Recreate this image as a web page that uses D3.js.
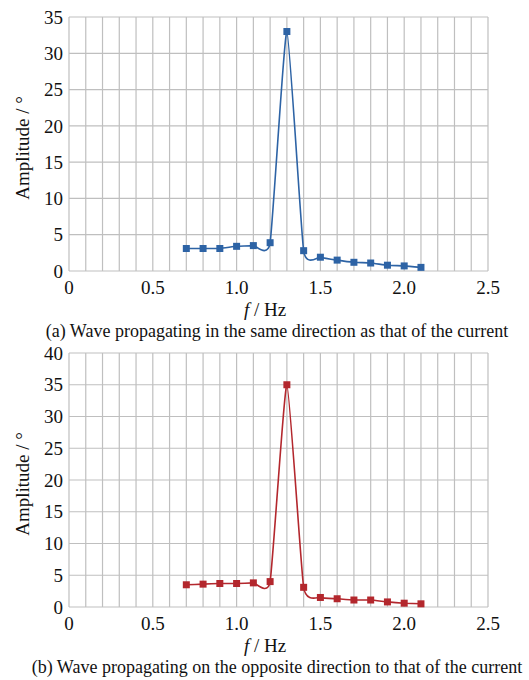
<!DOCTYPE html>
<html>
<head>
<meta charset="utf-8">
<script src="https://cdn.jsdelivr.net/npm/d3@7"></script>
<style>
  body { margin: 0; background: #fff; }
  text { font-family: "Liberation Serif", "DejaVu Serif", serif; fill: #111; }
</style>
</head>
<body>
<div id="chart"></div>
<script>
// frequencies, Hz
var freq = [0.7, 0.8, 0.9, 1.0, 1.1, 1.2, 1.3, 1.4, 1.5, 1.6, 1.7, 1.8, 1.9, 2.0, 2.1];
// amplitude (deg), wave with the current
var ampSame = [3.1, 3.1, 3.1, 3.4, 3.5, 3.9, 33.0, 2.8, 1.9, 1.5, 1.2, 1.1, 0.8, 0.7, 0.5];
// amplitude (deg), wave against the current
var ampOpposite = [3.5, 3.6, 3.7, 3.7, 3.8, 4.0, 35.0, 3.1, 1.5, 1.3, 1.1, 1.1, 0.8, 0.6, 0.5];

var xTicks = [0, 0.5, 1.0, 1.5, 2.0, 2.5];
var xTickLabels = ["0", "0.5", "1.0", "1.5", "2.0", "2.5"];
var yTicksA = [0, 5, 10, 15, 20, 25, 30, 35];
var yTicksB = [0, 5, 10, 15, 20, 25, 30, 35, 40];

var captionA = "(a) Wave propagating in the same direction as that of the current";
var captionB = "(b) Wave propagating on the opposite direction to that of the current";

var W = 529, H = 680;
var svg = d3.select("#chart").append("svg")
    .attr("width", W)
    .attr("height", H);

function drawPanel(top, bottom, yMax, yTicks, values, color, caption) {
    var x = d3.scaleLinear().domain([0, 2.5]).range([69, 488]);
    var y = d3.scaleLinear().domain([0, yMax]).range([bottom, top]);
    var g = svg.append("g");

    // grid every 0.1 Hz
    var xGrid = d3.range(0, 26).map(function (i) { return i / 10; });
    g.selectAll("line.vg").data(xGrid).enter().append("line")
        .attr("x1", function (d) { return x(d); })
        .attr("x2", function (d) { return x(d); })
        .attr("y1", y(yMax)).attr("y2", y(0))
        .attr("stroke", "#bfbfbf").attr("stroke-width", 1.2);
    g.selectAll("line.hg").data(yTicks).enter().append("line")
        .attr("x1", x(0)).attr("x2", x(2.5))
        .attr("y1", function (d) { return y(d); })
        .attr("y2", function (d) { return y(d); })
        .attr("stroke", "#bfbfbf").attr("stroke-width", 1.2);

    // tick labels
    g.selectAll("text.yt").data(yTicks).enter().append("text")
        .attr("x", 63)
        .attr("y", function (d) { return y(d); })
        .attr("dy", "0.35em")
        .attr("text-anchor", "end")
        .style("font-size", "19px")
        .text(function (d) { return d; });
    g.selectAll("text.xt").data(xTicks).enter().append("text")
        .attr("x", function (d) { return x(d); })
        .attr("y", bottom + 16)
        .attr("dy", "0.35em")
        .attr("text-anchor", "middle")
        .style("font-size", "19px")
        .text(function (d, i) { return xTickLabels[i]; });

    // axis titles
    var xt = g.append("text")
        .attr("x", 265).attr("y", bottom + 38)
        .attr("dy", "0.35em")
        .attr("text-anchor", "middle")
        .style("font-size", "19px");
    xt.append("tspan").style("font-style", "italic").text("f");
    xt.append("tspan").text(" / Hz");

    g.append("text")
        .attr("transform", "translate(22," + ((top + bottom) / 2 + 4) + ") rotate(-90)")
        .attr("dy", "0.35em")
        .attr("text-anchor", "middle")
        .style("font-size", "19px")
        .text("Amplitude / \u00b0");

    g.append("text")
        .attr("x", 277).attr("y", bottom + 60)
        .attr("dy", "0.35em")
        .attr("text-anchor", "middle")
        .style("font-size", "18px")
        .text(caption);

    // data
    var pts = freq.map(function (f, i) { return [f, values[i]]; });
    var line = d3.line()
        .x(function (d) { return x(d[0]); })
        .y(function (d) { return y(d[1]); })
        .curve(d3.curveCardinal.tension(0.55));
    g.append("path").datum(pts)
        .attr("d", line)
        .attr("fill", "none")
        .attr("stroke", color)
        .attr("stroke-width", 1.6);
    g.selectAll("rect.m").data(pts).enter().append("rect")
        .attr("x", function (d) { return x(d[0]) - 3.5; })
        .attr("y", function (d) { return y(d[1]) - 3.5; })
        .attr("width", 7).attr("height", 7)
        .attr("fill", color);
}

drawPanel(17, 271, 35, yTicksA, ampSame, "#2d63a5", captionA);
drawPanel(353, 607, 40, yTicksB, ampOpposite, "#b3272d", captionB);
</script>
</body>
</html>
